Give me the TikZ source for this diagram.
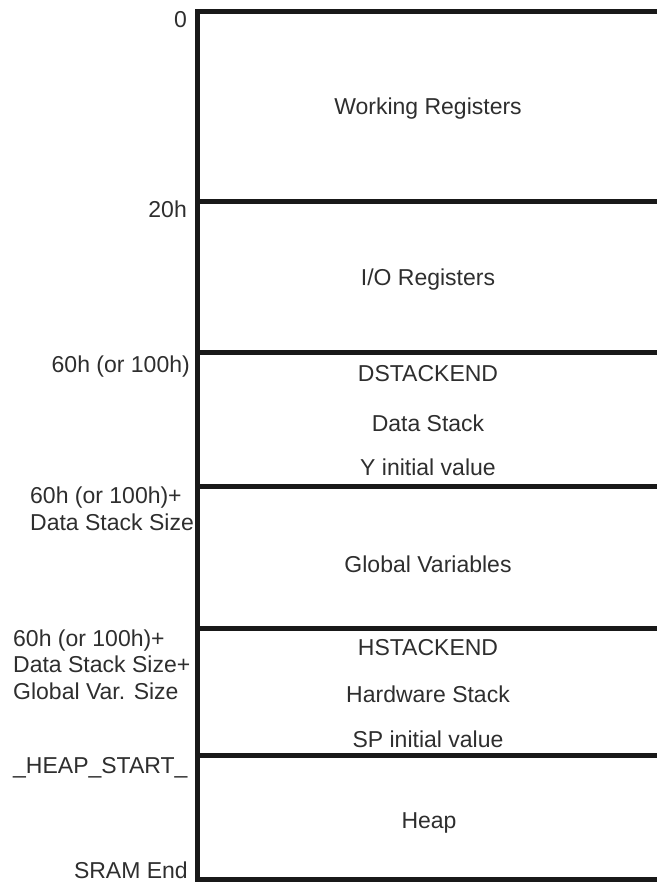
\documentclass[tikz,border=0pt]{standalone}
\usepackage{fontspec}
\setmainfont{Liberation Sans}
\begin{document}
\begin{tikzpicture}[x=1pt,y=-1pt,
  txt/.style={inner sep=0pt,font=\fontsize{23}{26.5}\selectfont,text=black!82},
  cen/.style={txt,anchor=base},
  lbl/.style={txt,anchor=base east},
  lbll/.style={txt,anchor=base west},
  wall/.style={line width=5pt,draw=black!90,line join=miter}]
\useasboundingbox (0,0) rectangle (657,882);
% frame
\draw[wall] (657,11.5) -- (197.5,11.5) -- (197.5,879.5) -- (657,879.5);
\foreach \yy in {202,352,486,628,755}
  \draw[wall] (195,\yy) -- (657,\yy);
% region texts
\node[cen] (wr) at (428,115) {Working Registers};
\node[cen] (io) at (428,285) {I/O Registers};
\node[cen] (dse) at (428,381) {DSTACKEND};
\node[cen] (ds) at (428,431) {Data Stack};
\node[cen] (yi) at (428,475) {Y initial value};
\node[cen] (gv) at (428,572) {Global Variables};
\node[cen] (hse) at (428,655) {HSTACKEND};
\node[cen] (hs) at (428,702) {Hardware Stack};
\node[cen] (spi) at (428,747) {SP initial value};
\node[cen] (hp) at (429,828) {Heap};
% address labels
\node[lbl] (a0) at (187,28) {0};
\node[lbl] (a20) at (187,218) {20h};
\node[lbl] (a60) at (190,372) {60h (or 100h)};
\node[lbll,align=left] (ads) at (30,530) {60h (or 100h)+\\Data Stack Size};
\node[lbll,align=left] (agv) at (13,699) {60h (or 100h)+\\Data Stack Size+\\Global Var. Size};
\node[lbll] (ahs) at (13,773) {\_HEAP\_START\_};
\node[lbl] (aend) at (188,878) {SRAM End};
\end{tikzpicture}
\end{document}
